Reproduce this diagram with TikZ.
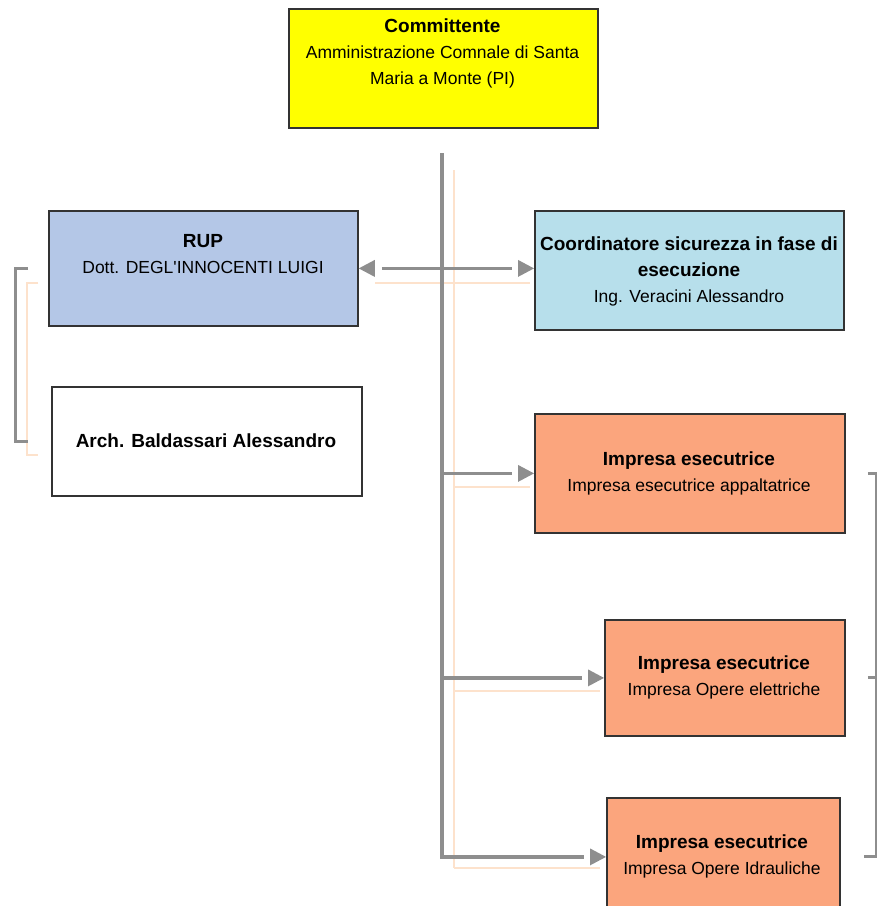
\documentclass[tikz,border=0pt]{standalone}
\usepackage{fontspec}
\setmainfont{Liberation Sans}
\usetikzlibrary{arrows.meta}
\definecolor{cyellow}{HTML}{FFFF00}
\definecolor{crup}{HTML}{B4C7E7}
\definecolor{ccoord}{HTML}{B7DFEB}
\definecolor{cimp}{HTML}{FBA57D}
\definecolor{cline}{HTML}{8E8E8E}
\definecolor{cshadow}{HTML}{FDE2CC}
\newcommand{\hd}[1]{{\fontsize{19}{26}\selectfont\bfseries #1}}
\newcommand{\tipR}[1]{\fill[cline] (#1) -- ++(-16,-8.5) -- ++(0,17) -- cycle;}
\newcommand{\tipL}[1]{\fill[cline] (#1) -- ++(16,-8.5) -- ++(0,17) -- cycle;}
\begin{document}
\begin{tikzpicture}[x=1pt,y=-1pt,
  box/.style={draw=black!80, line width=1.8pt, rectangle, inner sep=0pt, anchor=north west},
  txt/.style={align=center, inner sep=0pt, font=\fontsize{17.5}{26}\selectfont},
  conn/.style={draw=cline, line width=3.5pt},
  gapend/.style={shorten >=22pt},
  gapstart/.style={shorten <=23pt},
  bracket/.style={draw=cline, line width=3pt, line join=miter},
  shadow/.style={draw=cshadow, line width=2pt}]
\clip (0,0) rectangle (877,906);
\fill[white] (0,0) rectangle (877,906);

% faint shadow lines
\draw[shadow] (454,170) -- (454,868);
\draw[shadow, line width=1.2pt] (375,283) -- (530,283);
\draw[shadow, line width=1.2pt] (454,487) -- (530,487);
\draw[shadow, line width=1.2pt] (454,691) -- (600,691);
\draw[shadow, line width=1.2pt] (454,868) -- (600,868);
\draw[shadow, line width=1.2pt] (38,283) -- (27,283) -- (27,455) -- (38,455);

% boxes
\node[box, fill=cyellow, minimum width=309pt, minimum height=119pt] (com) at (288,8) {};
\node[box, fill=crup, minimum width=309pt, minimum height=115pt] (rup) at (48,210) {};
\node[box, fill=white, minimum width=310pt, minimum height=109pt] (arch) at (51,386) {};
\node[box, fill=ccoord, minimum width=309pt, minimum height=119pt] (coord) at (534,210) {};
\node[box, fill=cimp, minimum width=310pt, minimum height=119pt] (imp1) at (534,413) {};
\node[box, fill=cimp, minimum width=240pt, minimum height=116pt] (imp2) at (604,619) {};
\node[box, fill=cimp, minimum width=233pt, minimum height=118pt] (imp3) at (606,797) {};

% texts
\node[txt] (comt) at (442.5,53.5) {\hd{Committente}\\Amministrazione Comnale di Santa\\Maria a Monte (PI)};
\node[txt] (rupt) at (203,254.5) {\hd{RUP}\\Dott. DEGL\textquotesingle INNOCENTI LUIGI};
\node[txt] (archt) at (206,440.5) {\hd{Arch. Baldassari Alessandro}};
\node[txt] (coordt) at (689,271.5) {\hd{Coordinatore sicurezza in fase di}\\\hd{esecuzione}\\Ing. Veracini Alessandro};
\node[txt] (imp1t) at (689,473.5) {\hd{Impresa esecutrice}\\Impresa esecutrice appaltatrice};
\node[txt] (imp2t) at (724,677.5) {\hd{Impresa esecutrice}\\Impresa Opere elettriche};
\node[txt] (imp3t) at (722,856) {\hd{Impresa esecutrice}\\Impresa Opere Idrauliche};

% trunk and connectors
\coordinate (ttop) at (442,153);
\draw[conn] (ttop) -- (ttop |- imp2.west);
\draw[conn, gapend] (ttop |- imp2.west) |- (imp3.west);
\tipR{imp3.west}
\draw[conn, gapend, gapstart] (rup.east) -- (rup.east -| coord.west);
\tipL{rup.east}
\tipR{rup.east -| coord.west}
\draw[conn, gapend] (ttop |- imp1.west) -- (imp1.west);
\tipR{imp1.west}
\draw[conn, gapend] (ttop |- imp2.west) -- (imp2.west);
\tipR{imp2.west}

% brackets
\draw[bracket] ([xshift=-20pt]rup.west) -- ++(-13,0) |- ([xshift=-23pt]arch.west);
\draw[bracket] ([xshift=22pt]imp1.east) -- ++(9,0) |- ([xshift=23pt]imp3.east);
\draw[bracket] ([xshift=22pt]imp2.east) -- ++(9,0);
\end{tikzpicture}
\end{document}
